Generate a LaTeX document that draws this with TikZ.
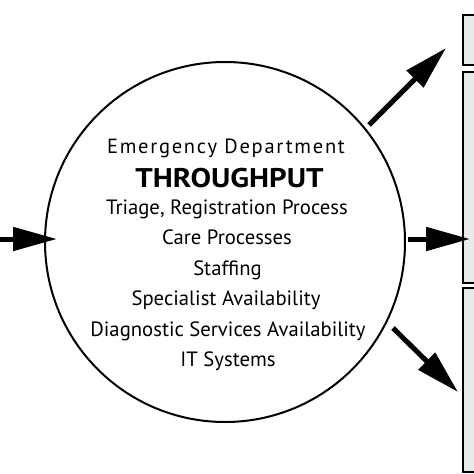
\documentclass[tikz,border=0pt]{standalone}
\usepackage{fontspec}
\setmainfont{PT Sans}
\newfontfamily\widefont{PT Sans}[LetterSpace=8.5]
\newfontfamily\thrufont{PT Sans}[FakeStretch=1.14]
\usetikzlibrary{arrows.meta}
\definecolor{boxgray}{HTML}{E8EBEC}
\begin{document}
\begin{tikzpicture}[x=1pt,y=-1pt,
  boxst/.style={draw=black,line width=2.5pt,fill=boxgray},
  bigarrow/.style={line width=5pt,-{Triangle[length=44pt,width=23pt]}},
  txt/.style={anchor=base,inner sep=0pt,font=\fontsize{20.7}{21}\selectfont}]
\useasboundingbox (0,0) rectangle (474,474);
\node[draw,line width=2pt,circle,minimum size=360pt,inner sep=0pt] (c) at (225,242) {};
\draw[boxst] (463,15) rectangle (490,65);
\draw[boxst] (463,72) rectangle (490,283);
\draw[boxst] (463,288) rectangle (490,472);
\node[txt,font=\widefont\fontsize{20.5}{21}\selectfont] (t1) at (226,153) {Emergency Department};
\node[txt,font=\thrufont\fontsize{27}{28}\bfseries\selectfont] (t2) at (229.5,187) {THROUGHPUT};
\node[txt] (t3) at (227,214) {Triage, Registration Process};
\node[txt] (t4) at (227,244.5) {Care Processes};
\node[txt] (t5) at (227.5,275) {Staffing};
\node[txt] (t6) at (226,305) {Specialist Availability};
\node[txt] (t7) at (228,336) {Diagnostic Services Availability};
\node[txt] (t8) at (228,366) {IT Systems};
\coordinate (inA) at (0,239);
\coordinate (inB) at (57,239);
\coordinate (o1a) at (369,125);
\coordinate (o1b) at (446,48);
\coordinate (o2a) at (408,239);
\coordinate (o2b) at (470,239);
\coordinate (o3a) at (393,328);
\coordinate (o3b) at (458,392);
\draw[bigarrow] (inA) -- (inB);
\draw[bigarrow] (o1a) -- (o1b);
\draw[bigarrow] (o2a) -- (o2b);
\draw[bigarrow] (o3a) -- (o3b);
\end{tikzpicture}
\end{document}
